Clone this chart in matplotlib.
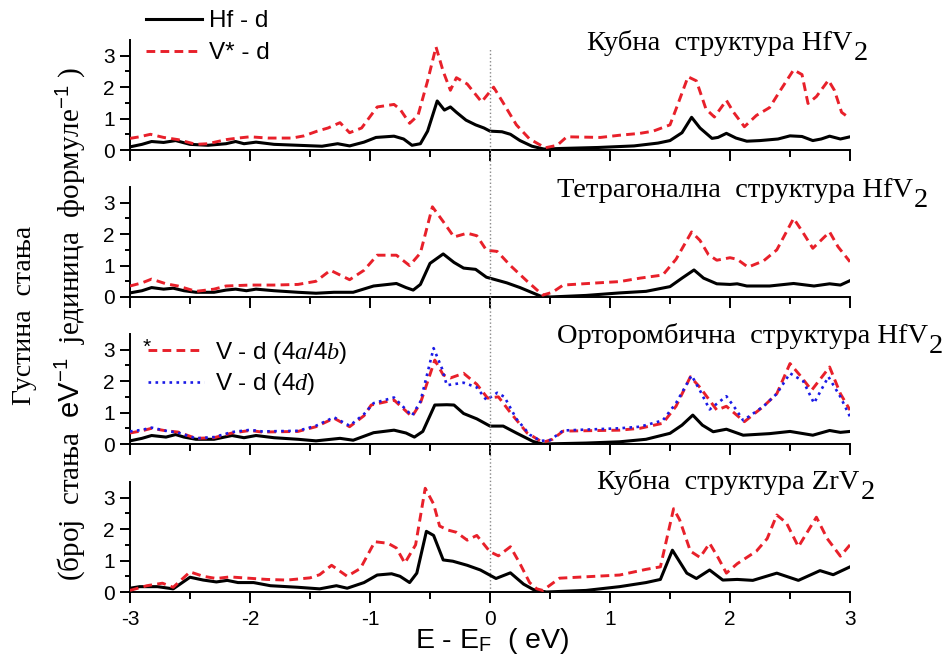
import numpy as np
import matplotlib
matplotlib.use('Agg')
import matplotlib.pyplot as plt

plt.rcParams['font.family'] = ['Liberation Sans', 'DejaVu Sans']
plt.rcParams['mathtext.fontset'] = 'custom'
plt.rcParams['mathtext.rm'] = 'Liberation Serif'
plt.rcParams['mathtext.it'] = 'Liberation Serif:italic'
plt.rcParams['mathtext.sf'] = 'Liberation Sans'

# (E - EF, DOS) pairs
hf_cub = [(-3.0,0.1),(-2.9,0.18),(-2.82,0.27),(-2.72,0.24),(-2.62,0.3),(-2.5,0.18),(-2.35,0.15),(-2.2,0.2),
          (-2.12,0.27),(-2.05,0.2),(-1.95,0.25),(-1.8,0.18),(-1.6,0.15),(-1.4,0.12),(-1.27,0.2),(-1.17,0.13),
          (-1.05,0.25),(-0.95,0.4),(-0.8,0.44),(-0.72,0.35),(-0.65,0.15),(-0.58,0.2),(-0.52,0.6),(-0.44,1.56),
          (-0.38,1.27),(-0.33,1.37),(-0.28,1.2),(-0.2,0.95),(-0.12,0.8),(-0.05,0.7),(0.0,0.6),(0.1,0.58),
          (0.17,0.5),(0.25,0.3),(0.35,0.12),(0.45,0.03),(0.6,0.05),(0.9,0.08),(1.2,0.13),(1.4,0.22),(1.5,0.3),
          (1.6,0.55),(1.68,1.04),(1.75,0.7),(1.85,0.37),(1.9,0.4),(1.97,0.53),(2.05,0.38),(2.14,0.28),
          (2.25,0.3),(2.4,0.35),(2.5,0.45),(2.6,0.43),(2.69,0.3),(2.76,0.35),(2.83,0.44),(2.92,0.35),(3.0,0.42)]
v_cub = [(-3.0,0.37),(-2.92,0.42),(-2.83,0.5),(-2.72,0.4),(-2.6,0.33),(-2.45,0.18),(-2.35,0.2),(-2.2,0.33),
         (-2.1,0.38),(-2.0,0.42),(-1.85,0.38),(-1.65,0.38),(-1.55,0.45),(-1.44,0.6),(-1.35,0.7),(-1.25,0.87),
         (-1.17,0.55),(-1.07,0.7),(-0.94,1.37),(-0.8,1.45),(-0.75,1.3),(-0.67,0.85),(-0.6,1.1),(-0.52,2.2),
         (-0.45,3.28),(-0.39,2.5),(-0.33,1.9),(-0.28,2.3),(-0.19,2.1),(-0.07,1.53),(0.03,2.0),(0.11,1.5),
         (0.22,0.8),(0.33,0.35),(0.46,0.07),(0.56,0.15),(0.64,0.42),(0.92,0.4),(1.08,0.47),(1.25,0.53),
         (1.36,0.6),(1.5,0.8),(1.56,1.4),(1.65,2.33),(1.72,2.2),(1.8,1.3),(1.87,1.05),(1.97,1.58),(2.03,1.2),
         (2.12,0.74),(2.22,1.1),(2.33,1.35),(2.42,1.9),(2.53,2.55),(2.6,2.4),(2.65,1.48),(2.72,1.7),
         (2.82,2.22),(2.87,1.9),(2.93,1.2),(3.0,1.0)]

hf_tet = [(-3.0,0.13),(-2.9,0.2),(-2.82,0.3),(-2.72,0.25),(-2.64,0.28),(-2.55,0.2),(-2.45,0.15),(-2.3,0.15),
          (-2.2,0.22),(-2.12,0.25),(-2.03,0.2),(-1.95,0.25),(-1.8,0.2),(-1.6,0.15),(-1.45,0.12),(-1.3,0.15),
          (-1.14,0.15),(-0.97,0.35),(-0.85,0.4),(-0.78,0.43),(-0.7,0.3),(-0.64,0.22),(-0.58,0.4),(-0.5,1.07),
          (-0.39,1.37),(-0.3,1.1),(-0.22,0.92),(-0.12,0.88),(-0.03,0.63),(0.14,0.45),(0.25,0.3),(0.42,0.03),
          (0.5,0.0),(0.8,0.05),(1.08,0.13),(1.3,0.18),(1.5,0.33),(1.6,0.6),(1.7,0.86),(1.78,0.6),(1.89,0.42),
          (2.0,0.4),(2.06,0.42),(2.14,0.35),(2.33,0.35),(2.53,0.43),(2.7,0.35),(2.83,0.42),(2.92,0.38),(3.0,0.52)]
v_tet = [(-3.0,0.35),(-2.9,0.45),(-2.82,0.57),(-2.7,0.42),(-2.6,0.35),(-2.45,0.18),(-2.3,0.25),(-2.2,0.35),
         (-2.0,0.38),(-1.8,0.38),(-1.6,0.4),(-1.45,0.5),(-1.33,0.85),(-1.17,0.55),(-1.05,0.85),(-0.94,1.33),
         (-0.78,1.33),(-0.67,1.0),(-0.58,1.4),(-0.48,2.87),(-0.39,2.4),(-0.3,1.91),(-0.19,2.03),(-0.11,1.95),
         (-0.03,1.49),(0.06,1.45),(0.17,1.0),(0.31,0.5),(0.44,0.06),(0.52,0.15),(0.61,0.38),(0.9,0.45),
         (1.08,0.49),(1.25,0.6),(1.44,0.7),(1.55,1.2),(1.68,2.07),(1.75,1.8),(1.82,1.35),(1.89,1.17),
         (2.0,1.25),(2.06,1.2),(2.15,0.95),(2.28,1.15),(2.39,1.5),(2.53,2.5),(2.6,2.1),(2.69,1.55),
         (2.83,2.07),(2.9,1.6),(3.0,1.12)]

hf_ort = [(-3.0,0.1),(-2.9,0.18),(-2.82,0.27),(-2.7,0.22),(-2.62,0.3),(-2.55,0.22),(-2.45,0.15),(-2.3,0.15),
          (-2.15,0.27),(-2.05,0.2),(-1.95,0.27),(-1.8,0.2),(-1.6,0.15),(-1.45,0.1),(-1.25,0.18),(-1.14,0.12),
          (-0.97,0.36),(-0.8,0.44),(-0.7,0.35),(-0.63,0.22),(-0.56,0.4),(-0.46,1.24),(-0.36,1.25),(-0.3,1.24),
          (-0.22,0.97),(-0.11,0.8),(0.0,0.57),(0.11,0.57),(0.22,0.35),(0.36,0.08),(0.44,0.0),(0.8,0.03),
          (1.08,0.07),(1.3,0.15),(1.5,0.34),(1.6,0.6),(1.69,0.92),(1.77,0.6),(1.86,0.39),(1.97,0.47),
          (2.11,0.28),(2.33,0.33),(2.5,0.4),(2.69,0.28),(2.83,0.43),(2.92,0.37),(3.0,0.4)]
v_ort_ab = [(-3.0,0.35),(-2.9,0.42),(-2.82,0.5),(-2.7,0.42),(-2.6,0.38),(-2.45,0.18),(-2.3,0.2),(-2.15,0.35),
            (-2.0,0.43),(-1.9,0.38),(-1.6,0.4),(-1.45,0.55),(-1.3,0.82),(-1.17,0.55),(-1.05,0.9),(-0.99,1.24),
            (-0.8,1.4),(-0.65,0.87),(-0.58,1.3),(-0.46,2.67),(-0.39,2.2),(-0.33,2.1),(-0.22,2.25),(-0.11,1.9),
            (-0.02,1.46),(0.07,1.5),(0.17,1.0),(0.31,0.35),(0.44,0.05),(0.52,0.15),(0.61,0.41),(1.08,0.44),
            (1.25,0.5),(1.44,0.66),(1.55,1.2),(1.67,2.14),(1.75,1.8),(1.89,1.08),(1.97,1.2),(2.12,0.71),
            (2.28,1.2),(2.39,1.6),(2.5,2.56),(2.58,2.2),(2.68,1.71),(2.83,2.45),(2.92,1.6),(3.0,1.08)]
v_ort_d = [(-3.0,0.4),(-2.9,0.45),(-2.82,0.52),(-2.7,0.42),(-2.6,0.36),(-2.45,0.18),(-2.3,0.22),(-2.15,0.38),
           (-2.0,0.45),(-1.9,0.4),(-1.6,0.42),(-1.45,0.58),(-1.3,0.85),(-1.17,0.58),(-1.05,0.95),(-0.97,1.3),
           (-0.8,1.48),(-0.65,0.9),(-0.58,1.35),(-0.47,3.05),(-0.4,2.4),(-0.36,1.87),(-0.22,1.95),(-0.11,1.8),
           (-0.03,1.4),(0.06,1.63),(0.12,1.5),(0.22,0.8),(0.33,0.3),(0.42,0.1),(0.5,0.12),(0.61,0.43),
           (1.08,0.5),(1.25,0.55),(1.44,0.75),(1.55,1.3),(1.68,2.18),(1.75,1.7),(1.83,1.1),(1.97,1.52),
           (2.05,1.1),(2.11,0.75),(2.28,1.2),(2.39,1.6),(2.5,2.25),(2.61,2.0),(2.7,1.3),(2.82,2.14),
           (2.92,1.5),(3.0,0.87)]

zr_cub = [(-3.0,0.12),(-2.92,0.17),(-2.77,0.17),(-2.64,0.1),(-2.5,0.47),(-2.39,0.38),(-2.28,0.32),(-2.19,0.37),
          (-2.1,0.3),(-1.97,0.3),(-1.83,0.2),(-1.6,0.15),(-1.42,0.1),(-1.28,0.2),(-1.19,0.12),(-1.05,0.3),
          (-0.94,0.54),(-0.82,0.58),(-0.75,0.5),(-0.67,0.3),(-0.61,0.6),(-0.53,1.93),(-0.47,1.8),(-0.39,1.02),
          (-0.31,0.98),(-0.19,0.85),(-0.08,0.7),(0.05,0.43),(0.17,0.61),(0.28,0.25),(0.36,0.08),(0.47,0.0),
          (0.8,0.05),(1.08,0.17),(1.3,0.3),(1.42,0.4),(1.52,1.33),(1.64,0.6),(1.72,0.43),(1.83,0.7),
          (1.94,0.38),(2.06,0.4),(2.19,0.37),(2.39,0.6),(2.57,0.37),(2.75,0.68),(2.86,0.55),(3.0,0.8)]
v_zr = [(-3.0,0.05),(-2.86,0.2),(-2.73,0.28),(-2.64,0.15),(-2.5,0.64),(-2.39,0.5),(-2.28,0.43),(-2.17,0.48),
        (-1.86,0.4),(-1.69,0.38),(-1.5,0.45),(-1.42,0.55),(-1.32,0.85),(-1.19,0.5),(-1.08,0.75),(-0.96,1.6),
        (-0.85,1.55),(-0.78,1.4),(-0.71,0.92),(-0.62,1.5),(-0.54,3.3),(-0.47,2.8),(-0.42,2.1),(-0.35,1.97),
        (-0.28,1.9),(-0.19,1.65),(-0.11,1.8),(0.0,1.28),(0.07,1.15),(0.17,1.44),(0.25,0.9),(0.33,0.3),
        (0.39,0.1),(0.44,0.05),(0.58,0.44),(1.08,0.54),(1.3,0.72),(1.42,0.8),(1.53,2.65),(1.58,2.3),
        (1.67,1.3),(1.75,1.1),(1.83,1.55),(1.9,1.1),(1.97,0.6),(2.06,0.9),(2.22,1.3),(2.31,1.7),(2.39,2.45),
        (2.47,2.2),(2.57,1.44),(2.72,2.38),(2.81,1.7),(2.92,1.14),(3.0,1.5)]

titles = ['Кубна  структура HfV', 'Тетрагонална  структура HfV',
          'Орторомбична  структура HfV', 'Кубна  структура ZrV']
title_pos = [(587, 50), (557, 197), (557, 343), (597, 489)]   # pixels, left / baseline

W, H = 947, 656
fig = plt.figure(figsize=(W / 100, H / 100), dpi=100)

bottoms = [150, 297, 444, 592]
axes = []
for b in bottoms:
    ax = fig.add_axes([130 / W, 1 - b / H, 720 / W, 110 / H])
    axes.append(ax)

RED = '#e8202a'
BLUE = '#1a1ae6'

def curve(ax, pts, **kw):
    a = np.array(pts)
    return ax.plot(a[:, 0], a[:, 1], **kw)[0]

def solid(ax, pts):
    return curve(ax, pts, color='black', lw=2.2, zorder=3)

def dashed(ax, pts):
    return curve(ax, pts, color=RED, lw=2.1, dashes=(3.0, 1.8), zorder=4)

l_hf = solid(axes[0], hf_cub)
l_v = dashed(axes[0], v_cub)
solid(axes[1], hf_tet)
dashed(axes[1], v_tet)
solid(axes[2], hf_ort)
l_ab = dashed(axes[2], v_ort_ab)
l_d = curve(axes[2], v_ort_d, color=BLUE, lw=1.9, linestyle=':', zorder=5)
solid(axes[3], zr_cub)
dashed(axes[3], v_zr)

for i, ax in enumerate(axes):
    ax.set_xlim(-3, 3)
    ax.set_ylim(0, 3.5)
    ax.spines['top'].set_visible(False)
    ax.spines['right'].set_visible(False)
    ax.spines['left'].set_linewidth(1.4)
    ax.spines['bottom'].set_linewidth(1.4)
    ax.set_xticks(np.arange(-3, 4, 1))
    ax.set_xticks(np.arange(-2.5, 3, 1), minor=True)
    ax.set_yticks([0, 1, 2, 3])
    ax.set_yticks([0.5, 1.5, 2.5], minor=True)
    ax.tick_params(axis='x', which='major', direction='out', length=8, width=1.4, labelsize=15, pad=5)
    ax.tick_params(axis='x', which='minor', direction='out', length=5, width=1.4)
    ax.tick_params(axis='y', which='major', direction='out', length=7, width=1.4, labelsize=15, pad=4)
    ax.tick_params(axis='y', which='minor', direction='out', length=3.5, width=1.4)
    if i < 3:
        ax.tick_params(axis='x', labelbottom=False)
    else:
        ax.set_xticklabels(['-3', '-2', '-1', '0', '1', '2', '3'])
    ax.set_yticklabels(['0', '1', '2', '3'])

# Fermi level: one dotted line through all panels
axes[3].axvline(0, ymin=0, ymax=(592 - 48) / 110, color='#888888', lw=1.0, linestyle=':', clip_on=False, zorder=1)

for t, (px, py) in zip(titles, title_pos):
    txt = fig.text(px / W, 1 - py / H, t, family='Liberation Serif', fontsize=20.5, va='baseline', ha='left')
    fig.canvas.draw()
    bb = txt.get_window_extent()
    fig.text((bb.x1 + 1) / W, 1 - (py + 10) / H, '2', family='Liberation Serif', fontsize=20.5,
             va='baseline', ha='left')

fig.legend([l_hf, l_v], ['Hf - d', 'V* - d'], loc='upper left', bbox_to_anchor=(146 / W, 1 - 10 / H),
           frameon=False, fontsize=17.5, handlelength=2.3, handletextpad=0.3, labelspacing=0.42,
           borderpad=0, borderaxespad=0)
fig.legend([l_ab, l_d], [r'V - d (4$\mathit{a}$/4$\mathit{b}$)', r'V - d (4$\mathit{d}$)'], loc='upper left',
           bbox_to_anchor=(148 / W, 1 - 340 / H), frameon=False, fontsize=17.5, handlelength=2.3,
           handletextpad=0.45, labelspacing=0.22, borderpad=0, borderaxespad=0)
fig.text(143 / W, 1 - 353 / H, '*', fontsize=15, ha='left', va='baseline')

fig.text(25 / W, 1 - 315 / H, 'Густина  стања', family='Liberation Serif', fontsize=20,
         rotation=90, ha='center', va='center')
fig.text(70 / W, 1 - 324 / H,
         r'(број  стања  $\mathsf{eV^{-1}}$  јединица  формуле$^{\mathsf{-1}}$ )',
         family='Liberation Serif', fontsize=21, rotation=90, ha='center', va='center')

fig.text(492 / W, 1 - 648 / H, r'E - E$_\mathsf{F}$  ( eV)', fontsize=20.5, ha='center', va='baseline')

fig.savefig('out.png', dpi=100)
